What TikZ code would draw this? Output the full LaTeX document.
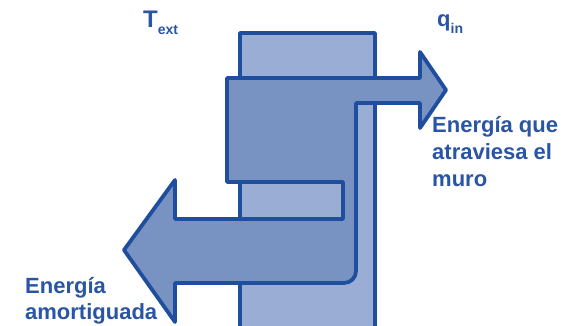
\documentclass[tikz,border=0pt]{standalone}
\usepackage{fontspec}
\setmainfont{Liberation Sans}
\usepackage{xcolor}
\usetikzlibrary{positioning}

\definecolor{wallfill}{HTML}{9AADD4}
\definecolor{flowfill}{HTML}{7893C2}
\definecolor{edgeblue}{HTML}{1F4E9F}
\definecolor{textblue}{HTML}{2A54A4}

\tikzset{
  wall/.style={fill=wallfill,draw=edgeblue,line width=3.8pt,line join=round},
  flow/.style={fill=flowfill,draw=edgeblue,line width=3.8pt,line join=round},
  lbl/.style={text=textblue,font=\bfseries\fontsize{22}{27}\selectfont,inner sep=0pt,anchor=base west,align=left}
}

\begin{document}
\begin{tikzpicture}[x=1pt,y=-1pt]
  \useasboundingbox (0,0) rectangle (566,326);
  % muro
  \draw[wall] (240,33) rectangle (375,340);
  % flujo de energia
  \draw[flow] (227,78) -- (420,78) -- (420,52) -- (446,90) -- (420,128) -- (420,103)
    -- (356,103) [rounded corners=12pt] -- (356,283) [sharp corners] -- (175,283)
    -- (175,322) -- (124,250) -- (175,180) -- (175,219) -- (343,219) -- (343,182)
    -- (227,182) -- cycle;
  \node[lbl] (text) at (143,28) {\fontsize{24}{24}\selectfont T\raisebox{-7pt}{\fontsize{14}{14}\selectfont ext}};
  \node[lbl] (qin) at (437,27) {q\raisebox{-7pt}{\fontsize{14}{14}\selectfont in}};
  % base = ultima linea
  \node[lbl] (atraviesa) at (432,187) {Energía que\\atraviesa el\\muro};
  \node[lbl] (amortiguada) at (25,320) {Energía\\amortiguada};
\end{tikzpicture}
\end{document}
